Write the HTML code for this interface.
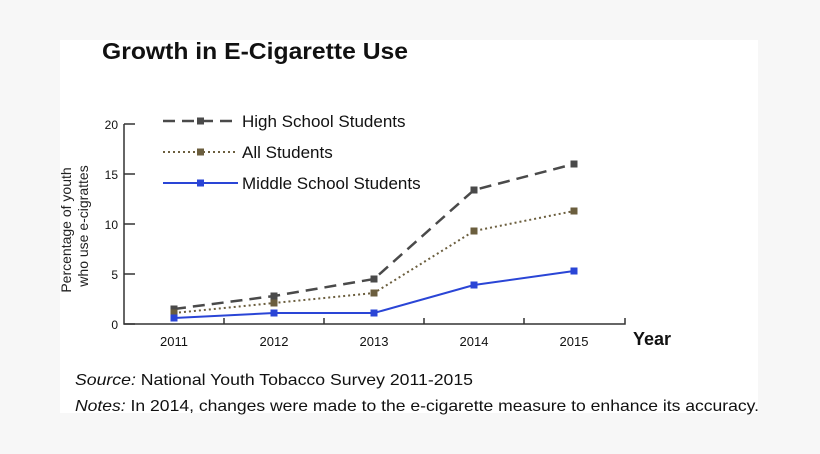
<!DOCTYPE html>
<html><head><meta charset="utf-8"><style>
body{margin:0;width:820px;height:454px;background:#f7f7f7;overflow:hidden;font-family:"Liberation Sans",sans-serif}
#card{position:absolute;left:60px;top:40px;width:698px;height:373px;background:#fff}
</style></head><body>
<div id="card"></div>
<svg id="chart" width="820" height="454" style="position:absolute;left:0;top:0">
<text x="102" y="59" font-size="23" font-weight="bold" fill="#111" textLength="306" lengthAdjust="spacingAndGlyphs">Growth in E-Cigarette Use</text>
<g id="axes"></g><g id="series"></g><g id="legend"></g>
<text transform="translate(71,230) rotate(-90)" text-anchor="middle" font-size="14" fill="#222">Percentage of youth</text>
<text transform="translate(88,226) rotate(-90)" text-anchor="middle" font-size="14" fill="#222">who use e-cigrattes</text>
<text x="633" y="345" font-size="18" font-weight="bold" fill="#111">Year</text>
<text x="75" y="385" font-size="16" fill="#111" textLength="398" lengthAdjust="spacingAndGlyphs"><tspan font-style="italic">Source:</tspan> National Youth Tobacco Survey 2011-2015</text>
<text x="75" y="411" font-size="16" fill="#111" textLength="684" lengthAdjust="spacingAndGlyphs"><tspan font-style="italic">Notes:</tspan> In 2014, changes were made to the e-cigarette measure to enhance its accuracy.</text>
</svg>
<script>
const categories=["2011","2012","2013","2014","2015"];
const highSchool=[1.5,2.8,4.5,13.4,16.0];
const allStudents=[1.1,2.1,3.1,9.3,11.3];
const middleSchool=[0.6,1.1,1.1,3.9,5.3];
const yTicks=[0,5,10,15,20];
const NS="http://www.w3.org/2000/svg";
const x0=124,x1=625,y0=324,yTop=124;
const xs=i=>x0+50+i*100;
const ys=v=>y0-(v/20)*(y0-yTop);
function mk(t,a,p){const e=document.createElementNS(NS,t);for(const k in a)e.setAttribute(k,a[k]);p.appendChild(e);return e;}
const ax=document.getElementById('axes');
let l=mk('path',{d:`M${x0} ${yTop}V${y0}H${x1}V${y0-6}`,stroke:'#333','stroke-width':1.5,fill:'none'},ax);


yTicks.forEach(v=>{
 const t=mk('line',{x1:x0,x2:x0+11,y1:ys(v),y2:ys(v),stroke:'#333','stroke-width':1.5},ax);
 
 
 const tx=mk('text',{x:x0-6,y:ys(v)+5,'text-anchor':'end','font-size':12,fill:'#111'},ax);
 tx.textContent=v;
 
 
});
categories.forEach((c,i)=>{
 if(i>0){const t=mk('line',{x1:x0+i*100,x2:x0+i*100,y1:y0,y2:y0-6,stroke:'#333','stroke-width':1.5},ax);
 
 }
 const tx=mk('text',{x:xs(i),y:y0+22,'text-anchor':'middle','font-size':13,fill:'#111'},ax);
 tx.textContent=c;
 
 
});
const defs=[
 {d:highSchool,c:'#4a4a4a',dash:'12,7',w:2.5,name:'high-school',label:'High School Students'},
 {d:allStudents,c:'#6b5e3e',dash:'2,3',w:2,name:'all-students',label:'All Students'},
 {d:middleSchool,c:'#2a45d6',dash:'none',w:2,name:'middle-school',label:'Middle School Students'}];
const sg=document.getElementById('series'),lg=document.getElementById('legend');
defs.forEach((s,k)=>{
 const p=mk('polyline',{points:s.d.map((v,i)=>xs(i)+','+ys(v)).join(' '),fill:'none',stroke:s.c,'stroke-width':s.w,'stroke-dasharray':s.dash},sg);
 
 
 s.d.forEach((v,i)=>{
  const r=mk('rect',{x:xs(i)-3.5,y:ys(v)-3.5,width:7,height:7,fill:s.c},sg);
  
  
 });
 const ly=121+k*31;
 const ll=mk('line',{x1:163,x2:238,y1:ly,y2:ly,stroke:s.c,'stroke-width':s.w,'stroke-dasharray':s.dash},lg);
 
 
 const lr=mk('rect',{x:197,y:ly-3.5,width:7,height:7,fill:s.c},lg);
 
 
 const lt=mk('text',{x:242,y:ly+6,'font-size':17,fill:'#111'},lg);
 lt.textContent=s.label;
 
 
});
</script>
</body></html>
